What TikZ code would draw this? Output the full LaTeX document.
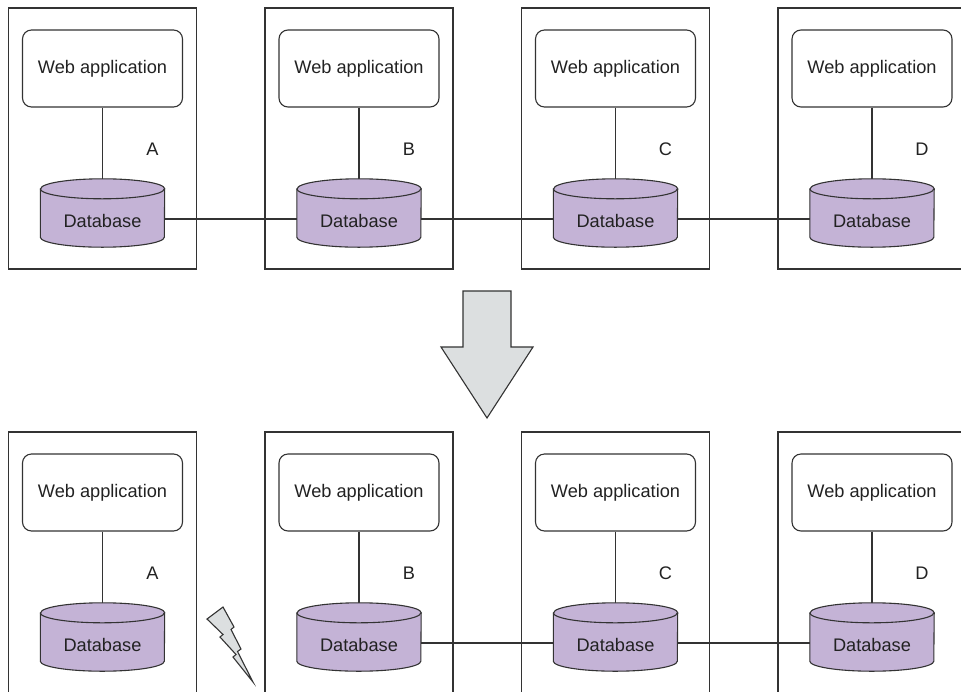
\documentclass[tikz,border=0pt]{standalone}
\usepackage{fontspec}
\setmainfont{Liberation Sans}
\definecolor{dbfill}{HTML}{C4B3D6}
\definecolor{grayfill}{HTML}{DCDFE0}
\definecolor{linec}{HTML}{333333}
\definecolor{textc}{HTML}{222222}
\tikzset{
  server/.style={draw=linec, line width=1.1pt, minimum width=188pt, minimum height=261pt, inner sep=0pt},
  webapp/.style={draw=linec, line width=1.1pt, rounded corners=9pt, minimum width=160pt, minimum height=77pt, inner sep=0pt, fill=white, text=textc, font=\fontsize{18.2}{22}\selectfont},
  dbnode/.style={minimum width=124pt, minimum height=68pt, inner sep=0pt},
  dbtext/.style={text=textc, font=\fontsize{18.2}{22}\selectfont, inner sep=0pt},
  lbl/.style={text=textc, font=\fontsize{18.2}{22}\selectfont, inner sep=0pt},
  conn/.style={draw=linec, line width=1.1pt},
  dbline/.style={draw=linec, line width=1.1pt},
  bigarrow/.style={draw=linec, line width=1.1pt, fill=grayfill, line join=miter},
}
\newcommand{\cyl}[1]{%
  \draw[dbline, fill=dbfill] ([yshift=-10pt]#1.north west) -- ([yshift=10pt]#1.south west)
     arc[start angle=180, end angle=360, x radius=62pt, y radius=10pt]
     -- ([yshift=-10pt]#1.north east)
     arc[start angle=0, end angle=180, x radius=62pt, y radius=10pt] -- cycle;
  \draw[dbline] ([yshift=-10pt]#1.north west) arc[start angle=180, end angle=360, x radius=62pt, y radius=10pt];
}
\begin{document}
\begin{tikzpicture}[x=1pt, y=-1pt]
\clip (0,0) rectangle (961,691);
\fill[white] (0,0) rectangle (961,691);

% ---------- top row ----------
\foreach \n/\cx/\l in {A/102.5/A, B/359/B, C/615.5/C, D/872/D}{
  \node[server] (s\n) at (\cx,138.5) {};
  \node[webapp] (w\n) at (\cx,68.5) {Web application};
  \node[dbnode] (d\n) at (\cx,213) {};
  \node[lbl] (l\n) at (\cx+50,149) {\l};
}
\foreach \n in {A,B,C,D}{
  \draw[conn] (w\n.south) -- (d\n.north);
  \cyl{d\n}
  \node[dbtext] (t\n) at ([yshift=-8pt]d\n.center) {Database};
}
\draw[conn] ([yshift=-6pt]dA.east) -- ([yshift=-6pt]dB.west);
\draw[conn] ([yshift=-6pt]dB.east) -- ([yshift=-6pt]dC.west);
\draw[conn] ([yshift=-6pt]dC.east) -- ([yshift=-6pt]dD.west);

% ---------- big arrow ----------
\draw[bigarrow] (463,291) -- (511,291) -- (511,347) -- (533,347) -- (487,418) -- (441,347) -- (463,347) -- cycle;

% ---------- bottom row ----------
\foreach \n/\cx/\l in {A/102.5/A, B/359/B, C/615.5/C, D/872/D}{
  \node[server] (bs\n) at (\cx,562.5) {};
  \node[webapp] (bw\n) at (\cx,492.5) {Web application};
  \node[dbnode] (bd\n) at (\cx,637) {};
  \node[lbl] (bl\n) at (\cx+50,573) {\l};
}
\foreach \n in {A,B,C,D}{
  \draw[conn] (bw\n.south) -- (bd\n.north);
  \cyl{bd\n}
  \node[dbtext] (bt\n) at ([yshift=-8pt]bd\n.center) {Database};
}
\draw[conn] ([yshift=-6pt]bdB.east) -- ([yshift=-6pt]bdC.west);
\draw[conn] ([yshift=-6pt]bdC.east) -- ([yshift=-6pt]bdD.west);

% ---------- lightning ----------
\draw[bigarrow, line join=miter] (207,619) -- (223,607) -- (234,627) -- (231,629.5) -- (241,649) -- (237.5,651.5) -- (253,682)
  -- (233,657) -- (236,654.5) -- (220,637) -- (223,634.5) -- cycle;
\end{tikzpicture}
\end{document}
